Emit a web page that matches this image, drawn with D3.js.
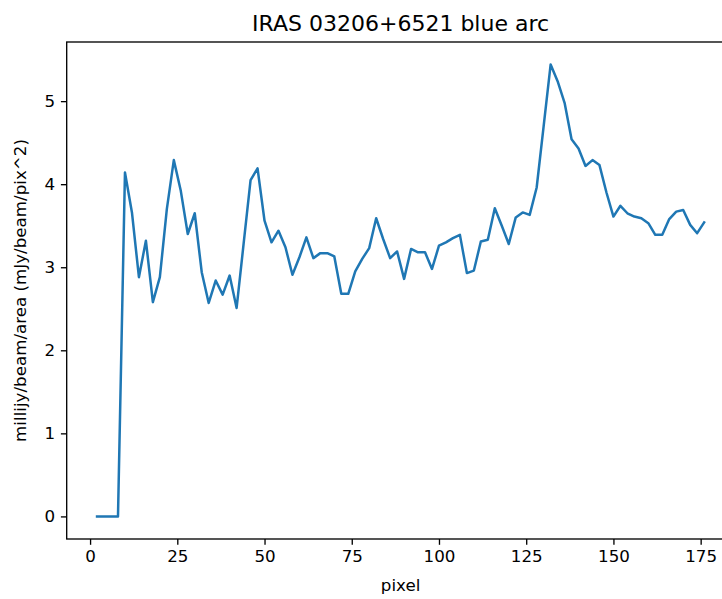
<!DOCTYPE html>
<html>
<head>
<meta charset="utf-8">
<script src="https://cdn.jsdelivr.net/npm/d3@7"></script>
<style>
  html, body { margin: 0; padding: 0; background: #fff; }
  svg { display: block; overflow: hidden; }
  text { font-family: "DejaVu Sans", sans-serif; fill: #000; }
</style>
</head>
<body>
<svg id="chart" width="722" height="599"></svg>
<script>
const titleText = "IRAS 03206+6521 blue arc";
const xLabel = "pixel";
const yLabel = "millijy/beam/area (mJy/beam/pix^2)";

const pixels = [2,4,6,8,10,12,14,16,18,20,22,24,26,28,30,32,34,36,38,40,42,44,46,48,50,
  52,54,56,58,60,62,64,66,68,70,72,74,76,78,80,82,84,86,88,90,92,94,96,98,100,
  102,104,106,108,110,112,114,116,118,120,122,124,126,128,130,132,134,136,138,140,
  142,144,146,148,150,152,154,156,158,160,162,164,166,168,170,172,174,176];
const flux = [0,0,0,0,4.14,3.66,2.88,3.32,2.58,2.88,3.70,4.29,3.92,3.40,3.65,2.94,2.57,2.84,2.67,2.90,2.51,3.28,4.05,4.19,3.56,
  3.30,3.44,3.24,2.91,3.12,3.36,3.11,3.17,3.17,3.13,2.68,2.68,2.95,3.10,3.23,3.59,3.34,3.11,3.19,2.86,3.22,3.18,3.18,2.98,3.26,
  3.30,3.35,3.39,2.93,2.96,3.31,3.33,3.71,3.50,3.28,3.60,3.66,3.63,3.96,4.70,5.44,5.24,4.98,4.54,4.43,
  4.22,4.29,4.23,3.90,3.61,3.74,3.65,3.61,3.59,3.53,3.39,3.39,3.58,3.67,3.69,3.51,3.41,3.54];
const xTicks = [0,25,50,75,100,125,150,175];
const yTicks = [0,1,2,3,4,5];

(function () {
const svg = d3.select("#chart");
const mL = 66.7, mR = 734.5, mT = 42, mB = 539;

const xMin = d3.min(pixels), xMax = d3.max(pixels);
const xPad = (xMax - xMin) * 0.05;
const yMin = d3.min(flux), yMax = d3.max(flux);
const yPad = (yMax - yMin) * 0.05;

const x = d3.scaleLinear().domain([xMin - xPad, xMax + xPad]).range([mL, mR]);
const y = d3.scaleLinear().domain([yMin - yPad, yMax + yPad]).range([mB, mT]);

const fs = 16.7;

const data = pixels.map((p, i) => [p, flux[i]]);
svg.append("path")
  .datum(data)
  .attr("fill", "none")
  .attr("stroke", "#1f77b4")
  .attr("stroke-width", 2.5)
  .attr("stroke-linejoin", "round")
  .attr("stroke-linecap", "square")
  .attr("d", d3.line().x(d => x(d[0])).y(d => y(d[1])));

const xAxis = d3.axisBottom(x).tickValues(xTicks).tickSize(5.8).tickPadding(5.8).tickFormat(d3.format("d"));
const yAxis = d3.axisLeft(y).tickValues(yTicks).tickSize(5.8).tickPadding(5.8).tickFormat(d3.format("d"));

const gx = svg.append("g").attr("transform", `translate(0,${mB})`).call(xAxis);
const gy = svg.append("g").attr("transform", `translate(${mL},0)`).call(yAxis);
[gx, gy].forEach(g => {
  g.select(".domain").remove();
  g.selectAll(".tick line").attr("stroke", "#000").attr("stroke-width", 1.33);
  g.selectAll(".tick text").style("font-size", fs + "px").style("font-family", "DejaVu Sans, sans-serif").attr("fill", "#000");
});

svg.append("rect")
  .attr("x", mL).attr("y", mT)
  .attr("width", mR - mL).attr("height", mB - mT)
  .attr("fill", "none").attr("stroke", "#000").attr("stroke-width", 1.33);

svg.append("text")
  .attr("x", (mL + mR) / 2).attr("y", 31)
  .attr("text-anchor", "middle")
  .style("font-size", "22px")
  .text(titleText);

svg.append("text")
  .attr("x", (mL + mR) / 2).attr("y", 591)
  .attr("text-anchor", "middle")
  .style("font-size", fs + "px")
  .text(xLabel);

svg.append("text")
  .attr("transform", `translate(26,${(mT + mB) / 2}) rotate(-90)`)
  .attr("text-anchor", "middle")
  .style("font-size", fs + "px")
  .text(yLabel);
})();
</script>
</body>
</html>
